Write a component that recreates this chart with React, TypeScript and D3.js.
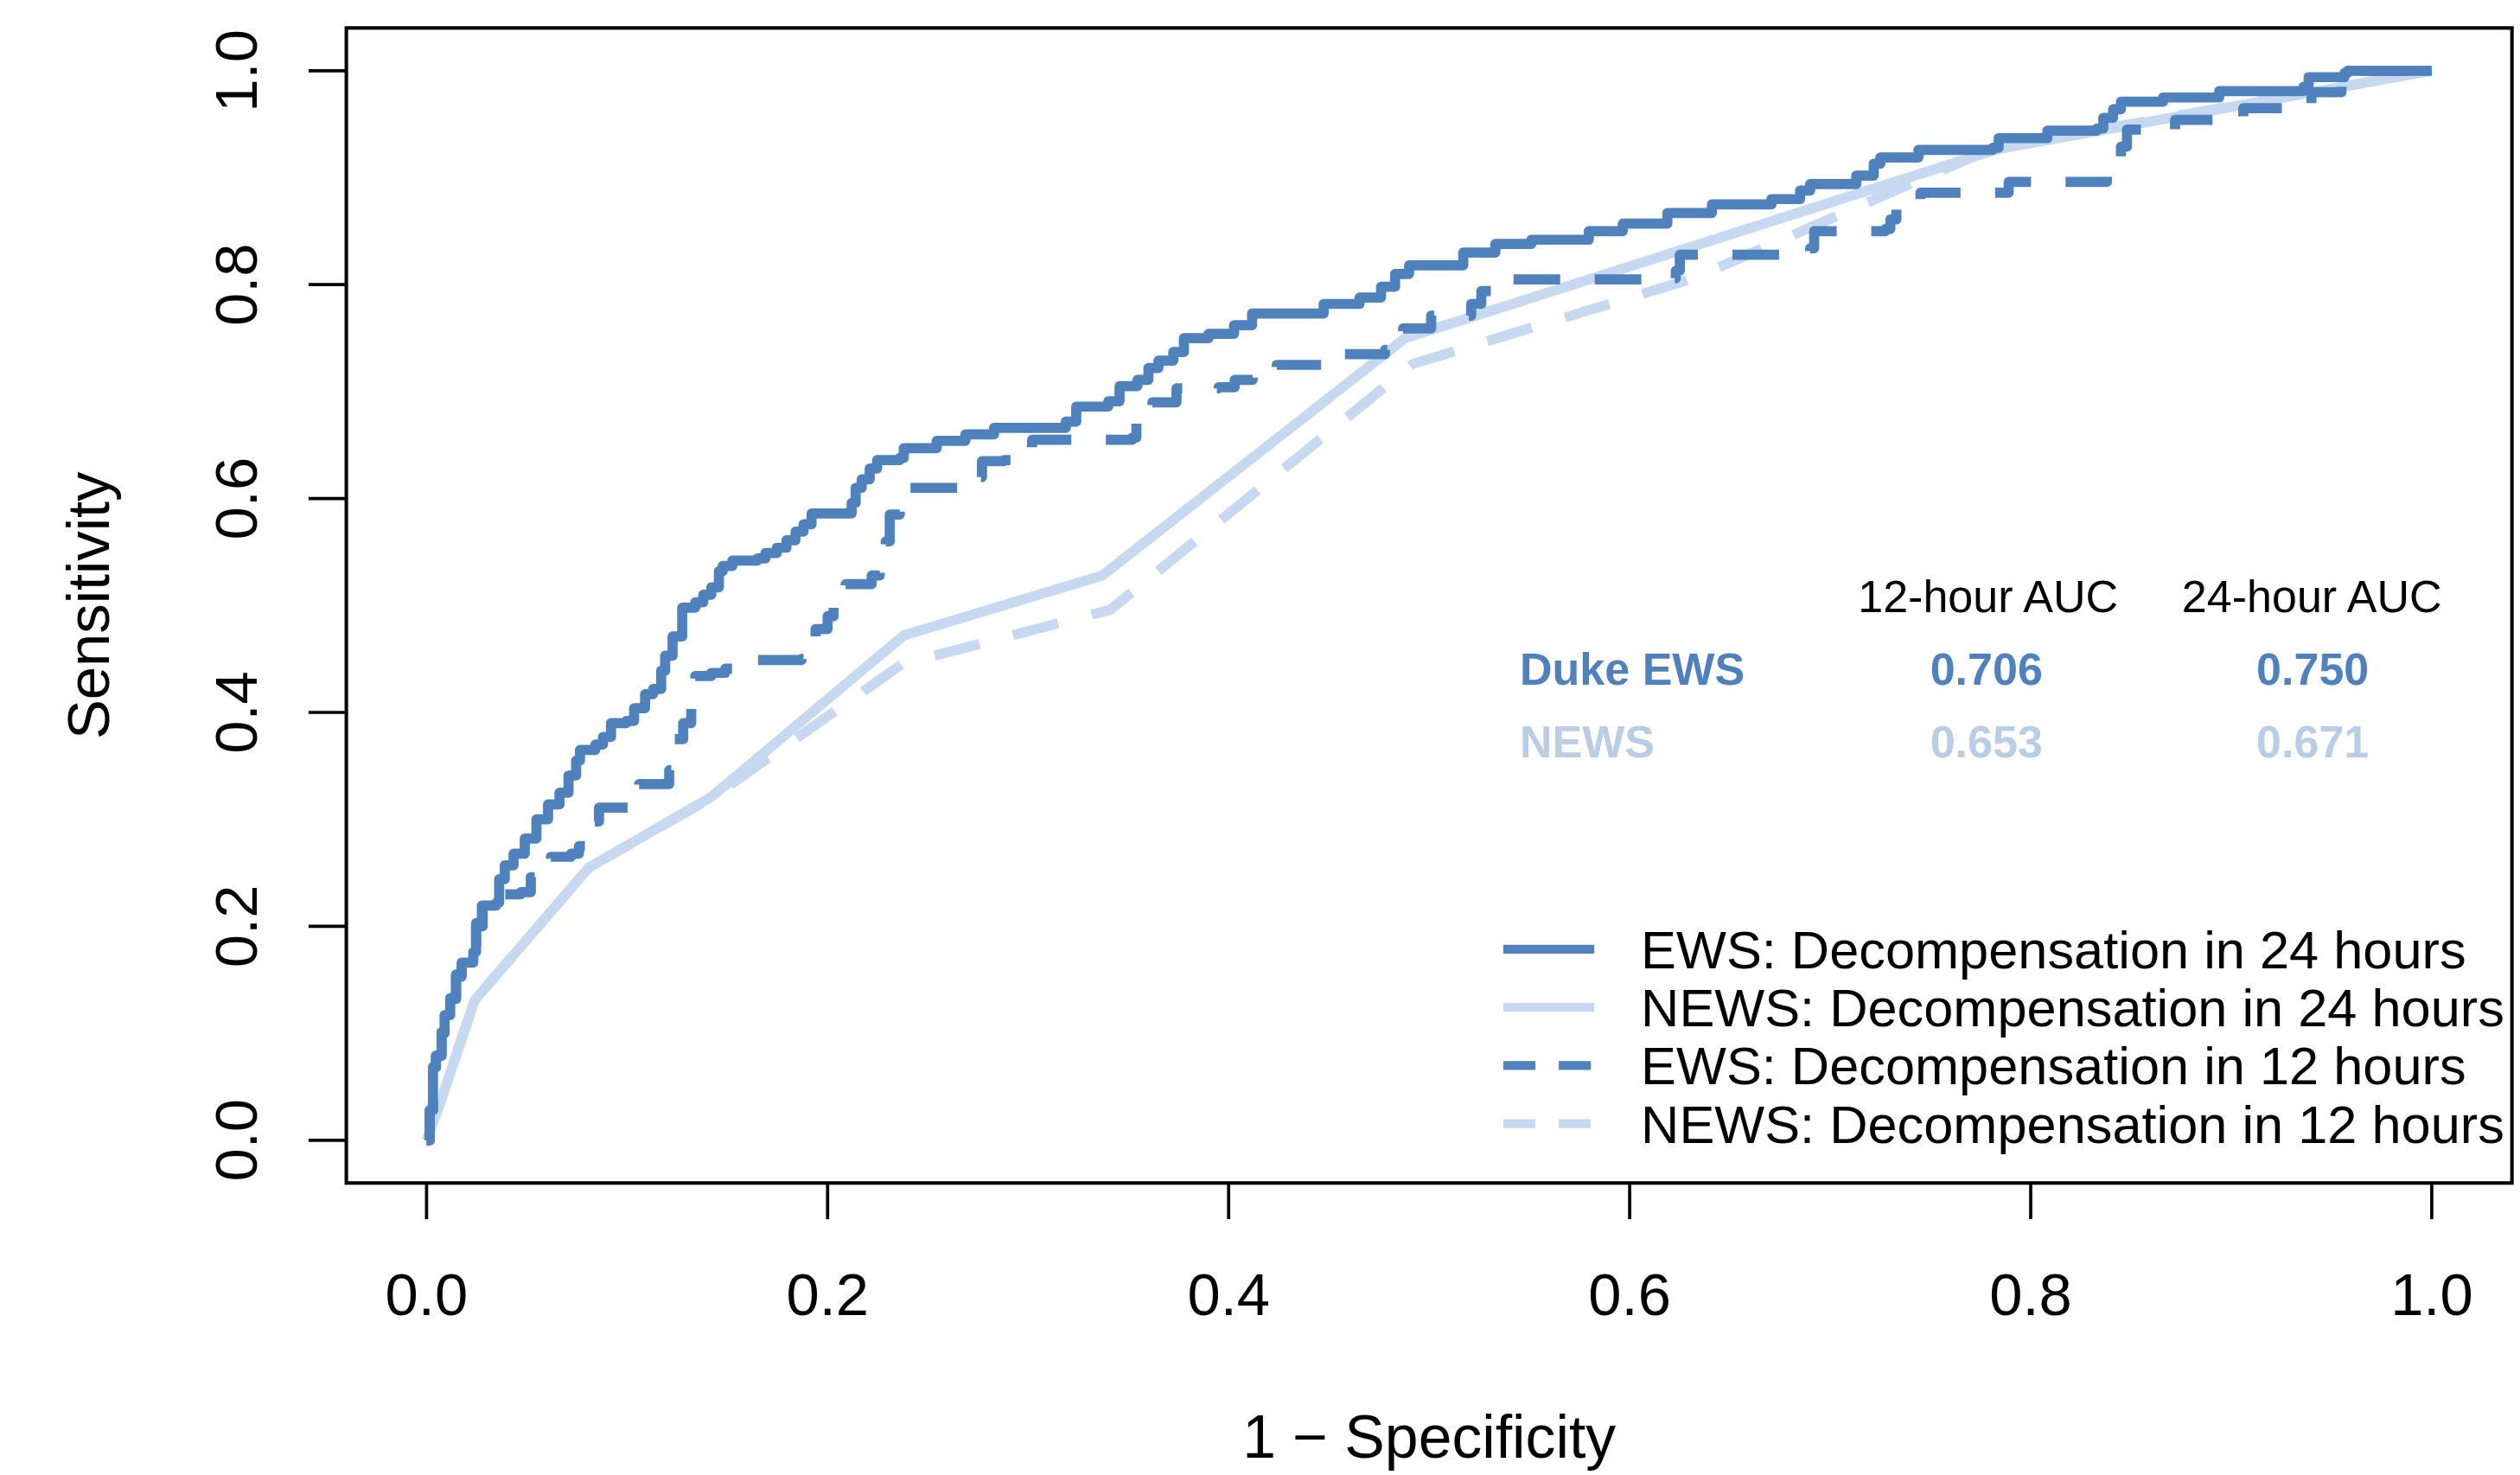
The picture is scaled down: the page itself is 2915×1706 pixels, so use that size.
import React from "react";
import * as d3 from "d3";

// ---- data ----
const ews24Fpr = [0, 0.0016, 0.0032, 0.0047, 0.0075, 0.009, 0.0118, 0.0147, 0.0175, 0.0233, 0.0247, 0.0276, 0.0348, 0.0362, 0.039, 0.0434, 0.049, 0.0548, 0.0606, 0.0663, 0.0708, 0.0746, 0.0765, 0.0842, 0.088, 0.092, 0.0996, 0.1035, 0.109, 0.113, 0.117, 0.119, 0.1227, 0.1275, 0.1314, 0.134, 0.138, 0.142, 0.1458, 0.1477, 0.1525, 0.165, 0.169, 0.1747, 0.1795, 0.184, 0.188, 0.192, 0.207, 0.212, 0.214, 0.217, 0.221, 0.2247, 0.236, 0.238, 0.2544, 0.2687, 0.283, 0.3188, 0.324, 0.34, 0.3456, 0.3545, 0.36, 0.365, 0.3724, 0.3777, 0.39, 0.4027, 0.4117, 0.44, 0.4474, 0.4653, 0.476, 0.483, 0.49, 0.515, 0.517, 0.533, 0.551, 0.5796, 0.5966, 0.6188, 0.641, 0.6707, 0.685, 0.69, 0.713, 0.7217, 0.725, 0.744, 0.781, 0.784, 0.8083, 0.833, 0.8362, 0.8411, 0.845, 0.866, 0.894, 0.936, 0.9386, 0.9565, 0.958, 1];
const ews24Tpr = [0, 0.028, 0.0685, 0.079, 0.101, 0.117, 0.133, 0.155, 0.166, 0.176, 0.203, 0.2195, 0.222, 0.244, 0.257, 0.268, 0.282, 0.3, 0.314, 0.325, 0.341, 0.355, 0.365, 0.37, 0.377, 0.39, 0.392, 0.404, 0.417, 0.422, 0.439, 0.453, 0.471, 0.498, 0.498, 0.503, 0.51, 0.517, 0.532, 0.537, 0.542, 0.544, 0.549, 0.554, 0.561, 0.569, 0.576, 0.586, 0.586, 0.596, 0.61, 0.618, 0.628, 0.636, 0.638, 0.647, 0.654, 0.66, 0.666, 0.672, 0.686, 0.691, 0.705, 0.711, 0.722, 0.729, 0.737, 0.75, 0.754, 0.762, 0.773, 0.773, 0.782, 0.788, 0.798, 0.81, 0.818, 0.818, 0.83, 0.838, 0.842, 0.85, 0.857, 0.867, 0.875, 0.88, 0.888, 0.894, 0.902, 0.913, 0.919, 0.926, 0.928, 0.937, 0.944, 0.946, 0.956, 0.964, 0.971, 0.975, 0.981, 0.985, 0.994, 0.998, 1.0, 1];

const ews12Fpr = [0, 0.0016, 0.0032, 0.0047, 0.0075, 0.009, 0.0118, 0.0147, 0.0175, 0.0233, 0.0247, 0.028, 0.035, 0.039, 0.047, 0.052, 0.06, 0.062, 0.072, 0.076, 0.08, 0.083, 0.086, 0.1, 0.106, 0.119, 0.121, 0.123, 0.128, 0.132, 0.134, 0.142, 0.149, 0.165, 0.187, 0.192, 0.194, 0.2, 0.203, 0.209, 0.222, 0.226, 0.229, 0.231, 0.236, 0.237, 0.263, 0.276, 0.277, 0.288, 0.301, 0.302, 0.352, 0.354, 0.362, 0.374, 0.395, 0.403, 0.412, 0.424, 0.447, 0.456, 0.478, 0.487, 0.501, 0.521, 0.526, 0.531, 0.606, 0.623, 0.625, 0.679, 0.69, 0.692, 0.7275, 0.73, 0.733, 0.745, 0.787, 0.789, 0.837, 0.838, 0.845, 0.848, 0.86, 0.872, 0.895, 0.906, 0.929, 0.94, 0.955, 0.96, 1];
const ews12Tpr = [0, 0.028, 0.068, 0.079, 0.1, 0.116, 0.132, 0.153, 0.164, 0.174, 0.2, 0.214, 0.22, 0.23, 0.232, 0.246, 0.25, 0.265, 0.268, 0.275, 0.278, 0.298, 0.311, 0.311, 0.333, 0.333, 0.346, 0.375, 0.39, 0.404, 0.434, 0.437, 0.441, 0.449, 0.45, 0.465, 0.478, 0.49, 0.5, 0.52, 0.528, 0.54, 0.56, 0.585, 0.6, 0.61, 0.61, 0.62, 0.635, 0.636, 0.645, 0.655, 0.657, 0.672, 0.69, 0.703, 0.704, 0.711, 0.716, 0.725, 0.725, 0.735, 0.739, 0.759, 0.771, 0.782, 0.794, 0.805, 0.806, 0.813, 0.828, 0.828, 0.834, 0.85, 0.852, 0.861, 0.876, 0.886, 0.886, 0.896, 0.896, 0.913, 0.929, 0.945, 0.945, 0.954, 0.954, 0.965, 0.965, 0.98, 0.994, 1.0, 1];

const news24Fpr = [0, 0.007, 0.024, 0.081, 0.142, 0.238, 0.337, 0.488, 0.784, 1];
const news24Tpr = [0, 0.036, 0.131, 0.255, 0.321, 0.472, 0.528, 0.75, 0.927, 1];

const news12Fpr = [0, 0.007, 0.024, 0.081, 0.142, 0.237, 0.341, 0.492, 0.632, 0.78, 1];
const news12Tpr = [0, 0.036, 0.131, 0.255, 0.32, 0.445, 0.496, 0.726, 0.806, 0.927, 1];

const xTicks = [0, 0.2, 0.4, 0.6, 0.8, 1.0];
const yTicks = [0, 0.2, 0.4, 0.6, 0.8, 1.0];

const legendLabels = [
  "EWS: Decompensation in 24 hours",
  "NEWS: Decompensation in 24 hours",
  "EWS: Decompensation in 12 hours",
  "NEWS: Decompensation in 12 hours",
];

const aucHeaders = ["12-hour AUC", "24-hour AUC"];
const aucModels = ["Duke EWS", "NEWS"];
const auc12 = ["0.706", "0.653"];
const auc24 = ["0.750", "0.671"];

const DARK = "#4F81BD";
const LIGHT = "#C6D9F1";
const LIGHT_TEXT = "#B9CDE5";
const FONT = "'Liberation Sans', Arial, Helvetica, sans-serif";

export default function App() {
  const W = 1568;
  const H = (1706 * 1568) / 2915;
  const left = 215.5, right = 1563, top = 17.4, bottom = 736;

  const x = d3.scaleLinear().domain([-0.04, 1.04]).range([left, right]);
  const y = d3.scaleLinear().domain([-0.04, 1.04]).range([bottom, top]);

  const zip = (a: number[], b: number[]) => a.map((v, i) => [v, b[i]] as [number, number]);

  const stepLine = d3.line<[number, number]>().x(d => x(d[0])).y(d => y(d[1])).curve(d3.curveStepAfter);
  const linLine = d3.line<[number, number]>().x(d => x(d[0])).y(d => y(d[1]));

  const series = [
    { d: linLine(zip(news12Fpr, news12Tpr)), color: LIGHT, dash: "29 21.5" },
    { d: linLine(zip(news24Fpr, news24Tpr)), color: LIGHT, dash: null },
    { d: stepLine(zip(ews12Fpr, ews12Tpr)), color: DARK, dash: "29 21.5" },
    { d: stepLine(zip(ews24Fpr, ews24Tpr)), color: DARK, dash: null },
  ];

  const legendItems = [
    { color: DARK, dash: null },
    { color: LIGHT, dash: null },
    { color: DARK, dash: "20 14.5" },
    { color: LIGHT, dash: "20 14.5" },
  ];
  const legendY0 = 590.5, legendDy = 36.2;
  const legendFs = 33;
  const fmt = d3.format(".1f");

  return (
    <svg
      width={2915}
      height={1706}
      viewBox={`0 0 ${W} ${H}`}
      style={{ position: "fixed", left: 0, top: 0, background: "#fff" }}
      fontFamily={FONT}
    >
      <rect x={0} y={0} width={W} height={H} fill="#fff" />
      {/* curves */}
      <g fill="none" strokeWidth={6.3} strokeLinejoin="round" strokeLinecap="butt">
        {series.map((s, i) => (
          <path key={i} d={s.d || ""} stroke={s.color} strokeDasharray={s.dash || undefined} />
        ))}
      </g>
      {/* box */}
      <rect x={left} y={top} width={right - left} height={bottom - top} fill="none" stroke="#000" strokeWidth={2.2} />
      {/* x axis */}
      <g>
        {xTicks.map(t => (
          <g key={t}>
            <line x1={x(t)} x2={x(t)} y1={bottom} y2={bottom + 22.5} stroke="#000" strokeWidth={2} />
            <text x={x(t)} y={818} textAnchor="middle" fontSize={37}>{fmt(t)}</text>
          </g>
        ))}
      </g>
      {/* y axis */}
      <g>
        {yTicks.map(t => (
          <g key={t}>
            <line x1={left} x2={left - 23.5} y1={y(t)} y2={y(t)} stroke="#000" strokeWidth={2} />
            <text x={160} y={y(t)} transform={`rotate(-90, 160, ${y(t)})`} textAnchor="middle" fontSize={37}>{fmt(t)}</text>
          </g>
        ))}
      </g>
      {/* axis titles */}
      <text x={(left + right) / 2} y={907} textAnchor="middle" fontSize={37.5}>1 − Specificity</text>
      <text x={68} y={(top + bottom) / 2} transform={`rotate(-90, 68, ${(top + bottom) / 2})`} textAnchor="middle" fontSize={37}>Sensitivity</text>

      {/* AUC table */}
      <g fontSize={28}>
        <text x={1237} y={381} textAnchor="middle" fill="#000">{aucHeaders[0]}</text>
        <text x={1438.5} y={381} textAnchor="middle" fill="#000">{aucHeaders[1]}</text>
        {aucModels.map((m, i) => {
          const c = i === 0 ? DARK : LIGHT_TEXT;
          const yy = 426 + i * 45;
          return (
            <g key={m} fontWeight="bold" fill={c}>
              <text x={945.6} y={yy}>{m}</text>
              <text x={1236} y={yy} textAnchor="middle">{auc12[i]}</text>
              <text x={1439} y={yy} textAnchor="middle">{auc24[i]}</text>
            </g>
          );
        })}
      </g>

      {/* legend */}
      <g>
        {legendLabels.map((lab, i) => {
          const yy = legendY0 + i * legendDy;
          const it = legendItems[i];
          return (
            <g key={lab}>
              <line x1={935.4} x2={992} y1={yy} y2={yy} stroke={it.color} strokeWidth={5.5} strokeDasharray={it.dash || undefined} />
              <text x={1021} y={yy + 0.358 * legendFs} fontSize={legendFs} fill="#000">{lab}</text>
            </g>
          );
        })}
      </g>
    </svg>
  );
}
